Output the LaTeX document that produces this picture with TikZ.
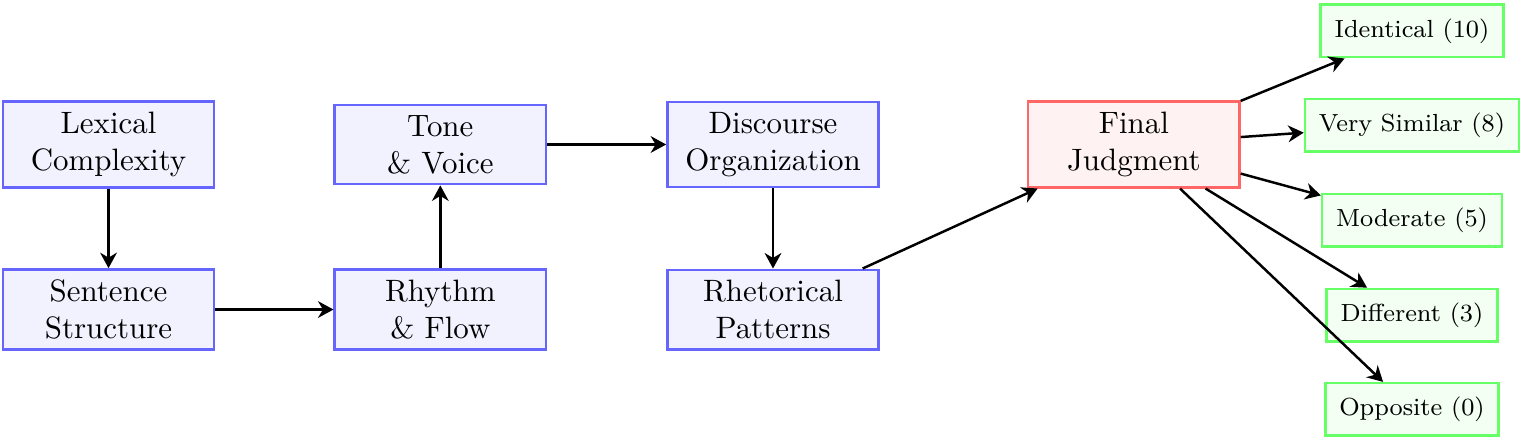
\documentclass[tikz,border=0pt]{standalone}
\usetikzlibrary{arrows.meta}
\begin{document}
\begin{tikzpicture}[>={Stealth[length=5pt,width=5.4pt,inset=1.6pt]},
  stage/.style={draw=blue!60, fill=blue!5, thick, minimum width=2.4cm, align=center},
  judge/.style={draw=red!60, fill=red!5, thick, minimum width=2.4cm, align=center},
  score/.style={draw=green!60, fill=green!5, thick, font=\footnotesize, inner sep=4.5pt},
  flow/.style={->, thick}]
  \useasboundingbox (-1.233,1.642) rectangle (16.06,-3.369);
  \node[stage] (lex) at (0,0) {Lexical\\ Complexity};
  \node[stage] (sen) at (0,-1.875) {Sentence\\ Structure};
  \node[stage] (rhy) at (3.77,-1.875) {Rhythm\\ \& Flow};
  \node[stage] (ton) at (3.77,0) {Tone\\ \& Voice};
  \node[stage] (dis) at (7.55,0) {Discourse\\ Organization};
  \node[stage] (rhe) at (7.55,-1.875) {Rhetorical\\ Patterns};
  \node[judge] (fin) at (11.65,0) {Final\\ Judgment};
  \node[score] (s10) at (14.81,1.29) {Identical (10)};
  \node[score] (s8) at (14.81,0.22) {Very Similar (8)};
  \node[score] (s5) at (14.81,-0.86) {Moderate (5)};
  \node[score] (s3) at (14.81,-1.94) {Different (3)};
  \node[score] (s0) at (14.81,-3.01) {Opposite (0)};
  \draw[flow] (lex) -- (sen);
  \draw[flow] (sen) -- (rhy);
  \draw[flow] (rhy) -- (ton);
  \draw[flow] (ton) -- (dis);
  \draw[flow] (dis) -- (rhe);
  \draw[flow] (rhe) -- (fin);
  \draw[flow] (fin) -- (s10);
  \draw[flow] (fin) -- (s8);
  \draw[flow] (fin) -- (s5);
  \draw[flow] (fin) -- (s3);
  \draw[flow] (fin) -- (s0);
\end{tikzpicture}
\end{document}
